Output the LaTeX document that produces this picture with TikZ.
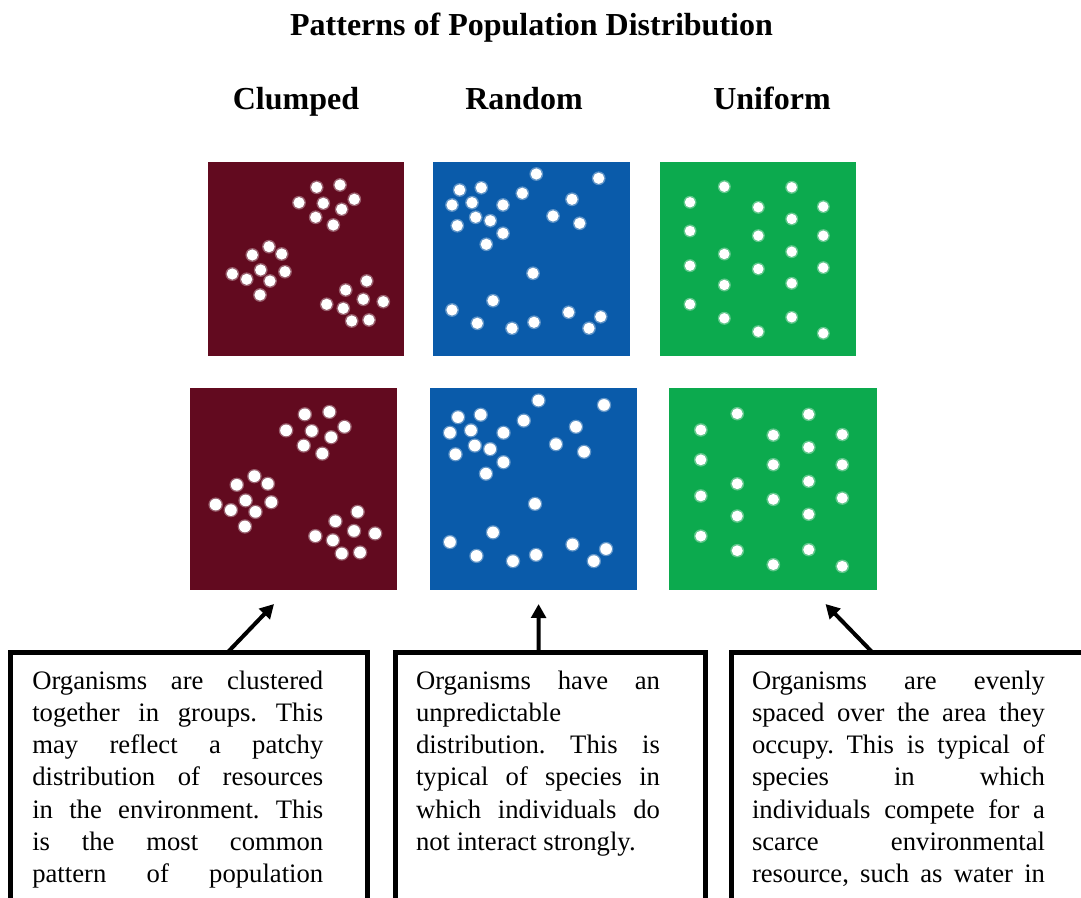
\documentclass[tikz,border=0pt]{standalone}
\usepackage{fontspec}
\setmainfont{Liberation Serif}
\usetikzlibrary{arrows.meta}
\frenchspacing
\definecolor{cred}{HTML}{620A1F}
\definecolor{cblue}{HTML}{0A5BAA}
\definecolor{cgreen}{HTML}{0CAA4E}
\tikzset{
  panelbox/.style={anchor=north west, inner sep=0, outer sep=0, draw=none},
  dotw/.style={fill=white},
  halo/.style={fill=white, fill opacity=0.35},
  txtbox/.style={draw=black, line width=3.75pt, anchor=north west, inner sep=0, outer sep=0, fill=none},
  bodytxt/.style={anchor=base west, inner sep=0, outer sep=0},
  arr/.style={line width=3pt, -{Triangle[length=10.5pt,width=11pt]}},
  ttl/.style={anchor=base, inner sep=0, font=\fontsize{24pt}{28pt}\selectfont\bfseries}
}
\newcommand{\dotset}[2]{%
  \foreach \px/\py in {#1} {
    \fill[halo] (\px,\py) circle[radius=#2+1.3];
    \fill[dotw] (\px,\py) circle[radius=#2];
  }}
\newcommand{\reddots}{\dotset{108.7/25.3,132/23,91/40.7,115.3/41.3,146.3/37.3,133.7/47.3,107.7/55.3,125.3/63,
61/84.7,44.3/93,73.7/92,24.3/112,52.7/108,77/109.7,38.7/117.3,62/119,52/133,
158.7/119,137.7/128,155.3/137.3,175.3/139.7,118.7/142.3,135.3/146.3,143.7/159,161/158}{5.6}}
\newcommand{\bluedots}{\dotset{103.3/12,165.7/16.3,26.7/28,48.3/25.7,89.3/31.3,139/37.3,19/43,39/40.7,70/43,120/54,42.7/55.3,57.3/58.7,146.7/61.3,24.3/63.7,70/71.3,53.3/82.3,100/111.3,60/138.7,19/148,135.7/150.3,167.7/154.7,44.3/161.3,101/160.3,79/166.3,156/166.3}{5.6}}
\newcommand{\greendots}{\dotset{64.3/24.7,131.7/25.3,30/40.3,98.3/45.3,163.3/44.7,131.7/57,30/69,98.3/73.7,163.3/73.7,64.3/92,131.7/89.7,30/103.7,98.3/107,163.3/105.7,64.3/123,131.7/121.3,30/142.3,64.3/156.3,131.7/155.3,98.3/169.7,163.3/171.3}{5.2}}
\begin{document}
\begin{tikzpicture}[x=0.75pt,y=-0.75pt]
\useasboundingbox (0,0) rectangle (1081,898);
\clip (0,0) rectangle (1081,898);
\fill[white] (0,0) rectangle (1081,898);

% titles
\node[ttl] (title) at (531.5,36) {Patterns of Population Distribution};
\node[ttl] (hC) at (296,110) {Clumped};
\node[ttl] (hR) at (524,110) {Random};
\node[ttl] (hU) at (772,110) {Uniform};

% top row panels
\node[panelbox, fill=cred, minimum width=147pt, minimum height=145.5pt] (pR1) at (208,162) {};
\node[panelbox, fill=cblue, minimum width=147.75pt, minimum height=145.5pt] (pB1) at (433,162) {};
\node[panelbox, fill=cgreen, minimum width=147pt, minimum height=145.5pt] (pG1) at (660,162) {};
\begin{scope}[shift={(pR1.north west)}]\reddots\end{scope}
\begin{scope}[shift={(pB1.north west)}]\bluedots\end{scope}
\begin{scope}[shift={(pG1.north west)}]\greendots\end{scope}

% bottom row panels
\node[panelbox, fill=cred, minimum width=155.25pt, minimum height=151.5pt] (pR2) at (190,388) {};
\node[panelbox, fill=cblue, minimum width=155.25pt, minimum height=151.5pt] (pB2) at (430,388) {};
\node[panelbox, fill=cgreen, minimum width=156pt, minimum height=151.5pt] (pG2) at (669,388) {};
\begin{scope}[shift={(pR2.north west)}, xscale=1.056, yscale=1.041]\reddots\end{scope}
\begin{scope}[shift={(pB2.north west)}, xscale=1.05, yscale=1.041]\bluedots\end{scope}
\begin{scope}[shift={(pG2.north west)}, xscale=1.061, yscale=1.041]\greendots\end{scope}

% text boxes
\node[txtbox, minimum width=267.75pt, minimum height=225pt] (boxL) at (10.5,652.5) {};
\node[txtbox, minimum width=232.5pt, minimum height=225pt] (boxM) at (395.5,652.5) {};
\node[txtbox, minimum width=277.5pt, minimum height=225pt] (boxR) at (731.5,652.5) {};

\node[bodytxt] (tL) at (32.3,689) {\parbox[t]{218.25pt}{\fontsize{20pt}{24.2pt}\selectfont
\makebox[\linewidth][s]{Organisms are clustered}\\
\makebox[\linewidth][s]{together in groups. This}\\
\makebox[\linewidth][s]{may reflect a patchy}\\
\makebox[\linewidth][s]{distribution of resources}\\
\makebox[\linewidth][s]{in the environment. This}\\
\makebox[\linewidth][s]{is the most common}\\
\makebox[\linewidth][s]{pattern of population}}};

\node[bodytxt] (tM) at (416,689) {\parbox[t]{183pt}{\fontsize{20pt}{24.2pt}\selectfont
\makebox[\linewidth][s]{Organisms have an}\\
unpredictable\\
\makebox[\linewidth][s]{distribution. This is}\\
\makebox[\linewidth][s]{typical of species in}\\
\makebox[\linewidth][s]{which individuals do}\\
not interact strongly.}};

\node[bodytxt] (tR) at (752,689) {\parbox[t]{219.75pt}{\fontsize{20pt}{24.2pt}\selectfont
\makebox[\linewidth][s]{Organisms are evenly}\\
\makebox[\linewidth][s]{spaced over the area they}\\
\makebox[\linewidth][s]{occupy. This is typical of}\\
\makebox[\linewidth][s]{species in which}\\
\makebox[\linewidth][s]{individuals compete for a}\\
\makebox[\linewidth][s]{scarce environmental}\\
\makebox[\linewidth][s]{resource, such as water in}}};

% arrows
\coordinate (tipL) at (274,604);
\coordinate (tipM) at (538.6,604);
\coordinate (tipR) at (825.5,604);
\draw[arr] ([xshift=217*0.75pt]boxL.north west) -- (tipL);
\draw[arr] ([xshift=143*0.75pt]boxM.north west) -- (tipM);
\draw[arr] ([xshift=141*0.75pt]boxR.north west) -- (tipR);
\end{tikzpicture}
\end{document}
